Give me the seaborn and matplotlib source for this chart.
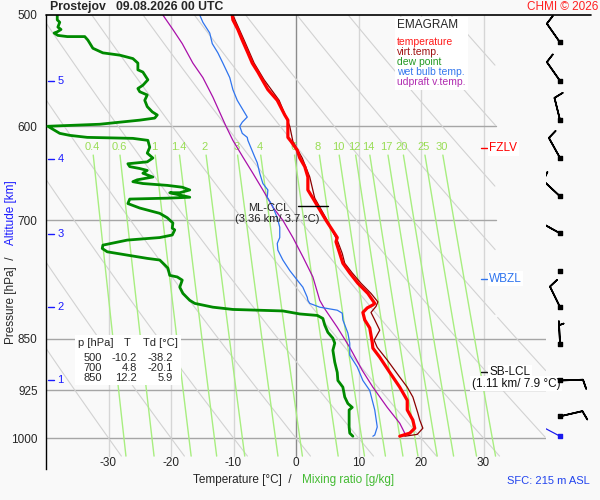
import numpy as np
import seaborn as sns
import matplotlib.pyplot as plt
import matplotlib.transforms as mtrans
from matplotlib.lines import Line2D
from matplotlib.patches import Rectangle
from matplotlib.ticker import NullLocator, NullFormatter

# temperature (red)
t_p = [997, 992, 984, 971, 955, 940, 920, 898, 876, 863, 855, 835, 824, 814, 808, 804, 802,
       789, 776, 763, 751, 739, 725, 720, 711, 700, 688, 675, 666, 652, 641, 632, 624, 615,
       611, 600, 594, 589, 575, 565, 556, 549, 541, 532, 521, 512, 504, 500]
t_T = [16.6, 18.2, 19.0, 18.7, 17.8, 17.8, 16.6, 15.0, 13.4, 12.3, 12.2, 11.8, 11.0, 10.7, 11.4, 12.3, 12.6,
       11.5, 9.9, 8.6, 7.5, 7.0, 6.4, 6.6, 5.8, 4.8, 3.8, 2.7, 1.9, 1.9, 1.4, 0.6, 0.2, -0.8,
       -1.3, -1.3, -1.3, -1.8, -3.0, -4.5, -5.4, -6.1, -7.0, -7.7, -8.6, -9.3, -10.1, -10.2]

# virtual temperature (dark red)
tv_p = [997, 994, 984, 971, 960, 935, 920, 905, 880, 862, 852, 838, 824, 814, 806, 800, 789,
        776, 763, 751, 739, 725, 700, 675, 652, 632, 615, 600, 575, 556, 541, 521, 500]
tv_T = [17.4, 19.4, 20.3, 19.8, 19.5, 18.7, 17.8, 16.6, 14.6, 13.0, 12.5, 13.4, 12.6, 12.0, 12.8, 13.1, 12.0,
        10.4, 9.0, 7.8, 7.4, 6.7, 5.0, 3.0, 2.2, 1.0, -0.5, -1.0, -2.7, -5.1, -6.7, -8.3, -10.1]

# dew point (green)
td_p = [997, 992, 982, 955, 951, 945, 935, 920, 910, 898, 883, 866, 856, 849, 841, 831, 822, 818,
        816, 812, 810, 807, 802, 798, 789, 781, 772, 768, 766, 757, 753, 747, 745, 741, 737, 733,
        729, 723, 720, 717, 711, 709, 703, 697, 692, 686, 681, 676, 675, 674, 669, 669, 666, 663,
        661, 659, 657, 655, 652, 648, 645, 643, 641, 638, 636, 632, 627, 621, 614, 612, 611, 609,
        607, 600, 598, 594, 592, 589, 586, 581, 575, 570, 567, 564, 561, 556, 549, 547, 541, 537,
        534, 532, 528, 521, 518, 518, 517, 515, 514, 512, 510, 506, 504, 500]
td_T = [9.1, 8.6, 8.5, 8.5, 9.0, 8.3, 7.8, 7.5, 6.7, 6.6, 6.2, 5.9, 6.2, 5.9, 5.1, 4.6, 4.3, 3.4,
        0.6, -2.1, -10.1, -13.3, -16.2, -17.0, -18.1, -18.6, -18.2, -19.0, -20.2, -20.5, -21.0, -21.8,
        -23.8, -27.0, -30.2, -31.0, -30.9, -27.0, -21.8, -19.8, -19.4, -19.8, -19.7, -20.6, -21.8,
        -25.0, -26.9, -26.6, -20.6, -17.0, -20.2, -18.6, -17.0, -18.2, -20.6, -24.5, -26.1, -25.4,
        -22.9, -24.5, -23.8, -25.0, -26.6, -26.9, -23.8, -22.9, -23.8, -23.4, -23.7, -26.1, -33.4,
        -36.2, -37.8, -39.7, -31.4, -25.0, -22.6, -22.2, -23.0, -23.8, -24.2, -23.8, -25.0, -25.3,
        -24.5, -23.7, -24.5, -25.3, -25.3, -26.1, -28.2, -30.9, -32.5, -33.3, -33.8, -36.6, -38.1,
        -38.7, -38.2, -37.6, -38.1, -37.8, -38.2, -38.2]

# wet bulb temperature (blue)
tw_p = [997, 995, 982, 955, 940, 925, 910, 890, 873, 856, 842, 824, 815, 811, 807, 802, 798, 794,
        781, 772, 760, 747, 735, 727, 720, 708, 697, 683, 674, 666, 659, 648, 637, 631, 614, 611,
        607, 600, 596, 591, 587, 575, 565, 554, 541, 532, 524, 515, 506, 500]
tw_T = [12.3, 12.6, 13.0, 12.6, 12.2, 11.8, 10.7, 9.8, 8.6, 8.6, 8.3, 7.5, 7.4, 6.6, 3.8, 2.2, 1.9, 1.8,
        1.1, 0.2, -1.0, -2.1, -2.9, -3.0, -2.6, -2.6, -3.0, -3.8, -4.6, -4.5, -5.3, -5.8, -6.2, -6.6,
        -7.7, -7.8, -8.6, -9.0, -8.6, -7.8, -8.2, -9.4, -10.1, -10.6, -11.7, -12.5, -13.4, -13.8,
        -14.9, -15.4]

# updraft virtual temperature (purple)
tu_p = [997, 992, 976, 951, 920, 895, 862, 834, 808, 798, 768, 743, 720, 700, 685, 666, 648, 631,
        614, 600, 572, 554, 541, 524, 512, 500]
tu_T = [17.1, 17.4, 16.6, 14.6, 12.3, 10.6, 8.6, 6.6, 4.5, 3.8, 2.7, 1.1, -0.5, -2.1, -3.7, -5.3,
        -6.9, -8.5, -10.1, -11.2, -13.3, -14.9, -16.5, -18.2, -19.7, -21.3]

# mixing ratio lines [g/kg]
mix_w = [0.4, 0.6, 1, 1.4, 2, 3, 4, 6, 8, 10, 12, 14, 17, 20, 25, 30]

# altitude marks
alt_km = [1, 2, 3, 4, 5]
alt_p = [910, 807, 716, 633, 557]

# wind barbs
wind_p = [523, 557, 594, 632, 673, 715, 761, 807, 857, 910, 965, 997]
wind_dir = [325, 325, 346, 331, 313, 299, 0, 334, 357, 88, 77, 298]
wind_kt = [10, 10, 10, 10, 10, 10, 0, 10, 5, 10, 10, 2]

# table
tab_p = [500, 700, 850]
tab_T = [-10.2, 4.8, 12.2]
tab_Td = [-38.2, -20.1, 5.9]

p_levels = [500, 600, 700, 850, 925, 1000]
t_ticks = [-30, -20, -10, 0, 10, 20, 30]

sns.set_style('white')
plt.rcParams['font.family'] = ['Liberation Sans', 'DejaVu Sans']

W, H = 600, 500
BG = '#f9f9f9'
fig = plt.figure(figsize=(6, 5), dpi=100, facecolor=BG)


def fx(px):
    return px / W


def fy(py):
    return 1 - py / H


ax = fig.add_axes([fx(46), fy(469), (546 - 46) / W, (469 - 15) / H])
ax.set_facecolor(BG)
ax.set_yscale('log')
ax.set_ylim(1052, 500)
ax.set_xlim(-40, 40)

# isotherms
for t in t_ticks:
    ax.plot([t, t], [500, 1030], color='#8c8c8c' if t == 0 else '#d6d6d6', lw=1, zorder=1)
# isobars
for p in p_levels[1:]:
    xr = 32 if p < 800 else 40
    ax.plot([-40, xr], [p, p], color='#a6a6a6', lw=1, zorder=1)

# dry adiabats
pp = np.geomspace(500, 1030, 300)
for th in range(-30, 160, 10):
    tt = (th + 273.15) * (pp / 1000) ** 0.2857 - 273.15
    lim = np.where(pp < 820, 32, 40)
    tt = np.where(tt > lim, np.nan, tt)
    ax.plot(tt, pp, color='#d2d2d2', lw=0.8, zorder=1)

# mixing ratio lines
pm = np.geomspace(629, 1030, 100)
for w in mix_w:
    lnr = np.log(w * pm / (622 + w) / 6.112)
    tm = 243.5 * lnr / (17.67 - lnr)
    ax.plot(tm, pm, color='#a8ee80', lw=1, zorder=1)
    l0 = np.log(w * 620 / (622 + w) / 6.112)
    ax.text(243.5 * l0 / (17.67 - l0), 621, f'{w:g}', color='#99dd55', fontsize=8,
            ha='center', va='center', zorder=1)

# profiles
sns.lineplot(x=tu_T, y=tu_p, sort=False, estimator=None, color='#aa10aa', lw=0.9, ax=ax, zorder=3)
sns.lineplot(x=tw_T, y=tw_p, sort=False, estimator=None, color='#2f74ee', lw=0.9, ax=ax, zorder=3)
sns.lineplot(x=td_T, y=td_p, sort=False, estimator=None, color='#008a00', lw=2.0, ax=ax, zorder=4)
sns.lineplot(x=tv_T, y=tv_p, sort=False, estimator=None, color='#8b0000', lw=0.9, ax=ax, zorder=4)
sns.lineplot(x=t_T, y=t_p, sort=False, estimator=None, color='#ff0000', lw=2.3, ax=ax, zorder=5)

# axes styling
ax.set_xlabel('')
ax.set_ylabel('')
ax.set_xticks([])
ax.set_yticks(p_levels)
ax.set_yticklabels([str(p) for p in p_levels])
ax.yaxis.set_minor_locator(NullLocator())
ax.yaxis.set_minor_formatter(NullFormatter())
ax.tick_params(axis='y', length=0, pad=6, labelsize=8.5)
for s in ['top', 'right', 'bottom']:
    ax.spines[s].set_visible(False)
ax.spines['left'].set_color('black')
ax.spines['left'].set_linewidth(1)
fig.add_artist(Line2D([fx(46), fx(591)], [fy(15), fy(15)], color='black', lw=1.2))

for t in t_ticks:
    ax.text(t, 1041, str(t), ha='center', va='center', fontsize=8.5)

# altitude marks
blend = mtrans.blended_transform_factory(ax.transAxes, ax.transData)
for km, p in zip(alt_km, alt_p):
    ax.plot([0.003, 0.015], [p, p], color='#1a1aff', lw=1, transform=blend, clip_on=False)
    ax.text(0.023, p, str(km), color='#1a1aff', fontsize=8, ha='left', va='center', transform=blend)

# levels
ax.plot([0.3, 5.1], [684, 684], color='black', lw=1, zorder=6)
ax.text(-1.0, 686, 'ML-CCL', ha='right', va='center', fontsize=8, color='#222222', zorder=6)
ax.text(-3.0, 698, '(3.36 km/ 3.7 °C)', ha='center', va='center', fontsize=8, color='#222222', zorder=6)
bbox_w = dict(facecolor='white', edgecolor='none', pad=1.0)
for lp, lab, col in [(622, 'FZLV', '#ff0000'), (770, 'WBZL', '#2f74ee'), (898, 'SB-LCL', '#111111')]:
    ax.plot([29.6, 30.6], [lp, lp], color=col, lw=1, zorder=6)
    ax.text(30.9, lp, lab, color=col, fontsize=8.5, ha='left', va='center', bbox=bbox_w, zorder=6)
ax.text(35.2, 915, '(1.11 km/ 7.9 °C)', color='#111111', fontsize=8.5, ha='center', va='center',
        bbox=bbox_w, zorder=6)

# wind barbs
ax2 = fig.add_axes([fx(546), fy(469), (600 - 546) / W, (469 - 15) / H])
ax2.set_yscale('log')
ax2.set_ylim(1052, 500)
ax2.set_xlim(0, 1)
ax2.axis('off')
wd = np.radians(wind_dir)
wu = -np.array(wind_kt) * np.sin(wd)
wv = -np.array(wind_kt) * np.cos(wd)
xb = np.full(len(wind_p), 0.26)
ok = (np.array(wind_kt) >= 5)
ax2.barbs(xb[ok], np.array(wind_p)[ok], wu[ok], wv[ok], length=5.75, color='black', lw=1.2)
sfc = np.array(wind_kt) < 5
sfc[6] = False
ax2.quiver(xb[sfc], np.array(wind_p)[sfc], -wu[sfc], -wv[sfc], color='#1a1aee', units='dots',
           scale_units='dots', scale=2 / 26, width=1.2, headwidth=0, headlength=0, headaxislength=0)
ax2.scatter(xb[:-1], wind_p[:-1], marker='s', s=5, color='black', zorder=5)
ax2.scatter(xb[-1:], wind_p[-1:], marker='s', s=5, color='#1a1aee', zorder=5)

# legend box
fig.add_artist(Rectangle((fx(395), fy(90)), 73 / W, 73 / H, facecolor='white', edgecolor='none'))
fig.text(fx(397), fy(25), 'EMAGRAM', fontsize=8.5, va='center', ha='left')
leg = [('temperature', '#ff1a1a'), ('virt.temp.', '#a01010'), ('dew point', '#229922'),
       ('wet bulb temp.', '#3377ee'), ('udpraft v.temp.', '#b02cb0')]
for i, (lab, col) in enumerate(leg):
    fig.text(fx(397), fy(42 + 10 * i), lab, color=col, fontsize=7.5, va='center', ha='left')

# table
fig.add_artist(Rectangle((fx(75), fy(385)), 106 / W, 50 / H, facecolor='white', edgecolor='none'))
fig.text(fx(78), fy(343), 'p [hPa]', fontsize=8, va='center')
fig.text(fx(127), fy(343), 'T', fontsize=8, va='center', ha='center')
fig.text(fx(143), fy(343), 'Td [°C]', fontsize=8, va='center')
for i, (a, b, c) in enumerate(zip(tab_p, tab_T, tab_Td)):
    yy = fy(358 + 10 * i)
    fig.text(fx(102), yy, str(a), fontsize=8, va='center', ha='right')
    fig.text(fx(137), yy, f'{b:.1f}', fontsize=8, va='center', ha='right')
    fig.text(fx(173), yy, f'{c:.1f}', fontsize=8, va='center', ha='right')

# titles and labels
fig.text(fx(50), fy(7), 'Prostejov   09.08.2026 00 UTC', fontsize=8.8, fontweight='bold', va='center')
fig.text(fx(598), fy(7), 'CHMI © 2026', fontsize=8.5, color='#ff2020', va='center', ha='right')
fig.text(fx(590), fy(481), 'SFC: 215 m ASL', fontsize=8, color='#2244ee', va='center', ha='right')
fig.text(fx(292), fy(480), 'Temperature [°C]  /', fontsize=8.5, va='center', ha='right')
fig.text(fx(302), fy(480), 'Mixing ratio [g/kg]', fontsize=8.5, va='center', ha='left', color='#44bb33')
fig.text(fx(11), fy(256), 'Pressure [hPa]  /', fontsize=8.5, rotation=90, rotation_mode='anchor',
         ha='right', va='center')
fig.text(fx(11), fy(245), 'Altitude [km]', fontsize=8.5, rotation=90, rotation_mode='anchor',
         ha='left', va='center', color='#1a1aff')

fig.savefig('out.png', dpi=100, facecolor=BG)
